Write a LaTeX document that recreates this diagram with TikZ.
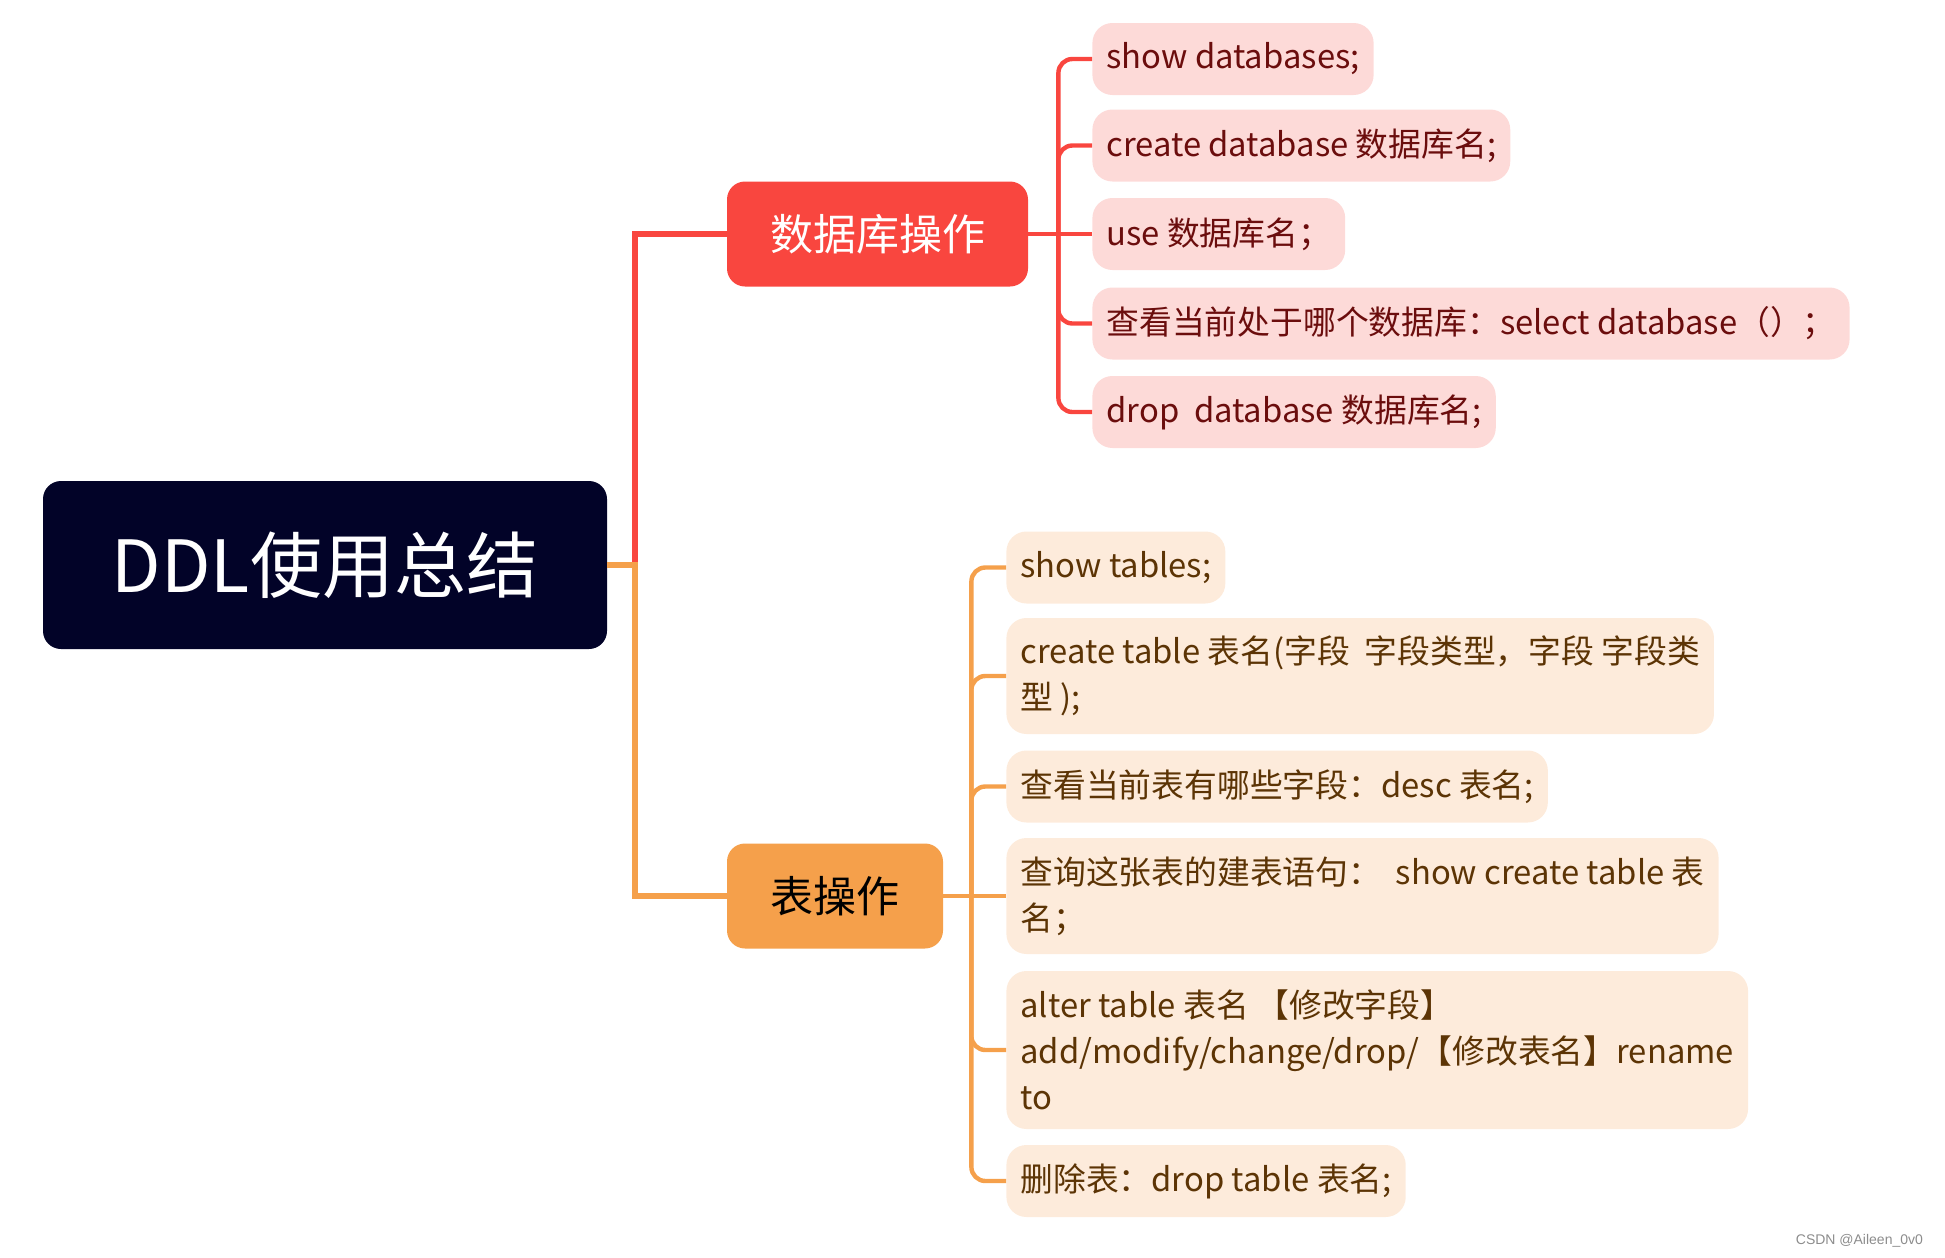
\documentclass[tikz,border=0pt]{standalone}
\usepackage{fontspec}
\setmainfont{Noto Sans CJK SC}
\newfontfamily\wmfont{Liberation Sans}
\usetikzlibrary{positioning, calc}

\definecolor{rootnavy}{HTML}{020328}
\definecolor{dbred}{HTML}{F9463F}
\definecolor{dbpink}{HTML}{FDDAD8}
\definecolor{dbtext}{HTML}{6B0D0D}
\definecolor{tborange}{HTML}{F5A04B}
\definecolor{tbpeach}{HTML}{FDEBDB}
\definecolor{tbtext}{HTML}{5C3405}

\begin{document}
\begin{tikzpicture}[
        x=0.5pt, y=-0.5pt,
        rootbox/.style={fill=rootnavy, text=white, rounded corners=9pt, minimum width=282pt, minimum height=84pt, font=\fontsize{36}{40}\selectfont},
        topic/.style={rounded corners=9pt, minimum width=108pt, minimum height=52.5pt, inner xsep=21pt, font=\fontsize{21.5}{26}\selectfont},
        dbitem/.style={fill=dbpink, text=dbtext, rounded corners=10pt, anchor=west, align=left, inner xsep=7pt, minimum height=36pt, font=\fontsize{16.4}{23}\selectfont},
        tbitem/.style={dbitem, fill=tbpeach, text=tbtext},
        mainlink/.style={line width=3pt},
        dblink/.style={draw=dbred, line width=2.2pt, rounded corners=7pt},
        tblink/.style={draw=tborange, line width=2.2pt, rounded corners=7pt},
        wm/.style={font=\wmfont\fontsize{7}{8}\selectfont, text=black!45}
    ]
    \useasboundingbox (0,0) rectangle (1945,1258);

    % ---- root ----
    \node[rootbox] (root) at (325,565) {DDL使用总结};

    % ---- main topics ----
    \node[topic, fill=dbred, text=white, minimum width=150.5pt] (db) at (877.5,234) {数据库操作};
    \node[topic, fill=tborange, text=black] (tb) at (835,896) {表操作};

    % ---- database items ----
    \node[dbitem] (d1) at (1092,59) {show databases;};
    \node[dbitem] (d2) at (1092,145.5) {create database 数据库名;};
    \node[dbitem] (d3) at (1092,234) {use 数据库名；};
    \node[dbitem] (d4) at (1092,323.5) {查看当前处于哪个数据库：select database（）；};
    \node[dbitem] (d5) at (1092,412) {drop~~database 数据库名;};

    % ---- table items ----
    \node[tbitem] (t1) at (1006,567.5) {show tables;};
    \node[tbitem, minimum height=58pt] (t2) at (1006,676) {create table 表名(字段~~字段类型，字段 字段类\\型 );};
    \node[tbitem] (t3) at (1006,786.5) {查看当前表有哪些字段：desc 表名;};
    \node[tbitem, minimum height=58pt] (t4) at (1006,896) {查询这张表的建表语句：~~show create table 表\\名；};
    \node[tbitem, minimum height=79pt] (t5) at (1006,1050) {alter table 表名~【修改字段】\\add/modify/change/drop/【修改表名】rename\\to};
    \node[tbitem] (t6) at (1006,1181) {删除表：drop table 表名;};

    % ---- root to main topics ----
    \draw[mainlink, dbred] (root.east) -- ++(14pt,0) |- (db.west);
    \draw[mainlink, tborange] (root.east) -- ++(14pt,0) |- (tb.west);

    % ---- database branch ----
    \coordinate (dbfork) at ($(db.east)+(15pt,0)$);
    \foreach \n in {d1,d2,d4,d5}
        \draw[dblink] (dbfork) |- (\n.west);
    \draw[dblink] (db.east) -- (d3.west);

    % ---- table branch ----
    \coordinate (tbfork) at ($(tb.east)+(14pt,0)$);
    \foreach \n in {t1,t2,t3,t5,t6}
        \draw[tblink] (tbfork) |- (\n.west);
    \draw[tblink] (tb.east) -- (t4.west);

    \node[wm, anchor=east] (mark) at (1930,1241) {CSDN @Aileen\_0v0};
\end{tikzpicture}
\end{document}
